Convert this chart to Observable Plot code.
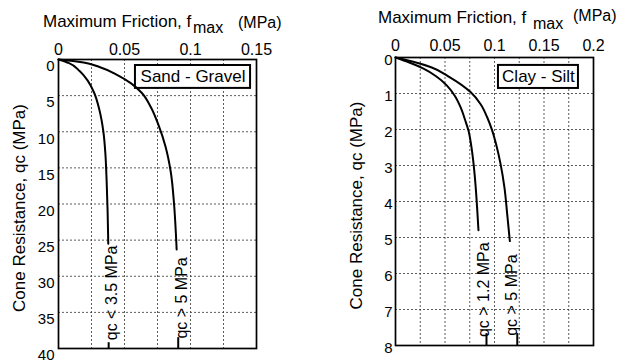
<!DOCTYPE html>
<html><head><meta charset="utf-8">
<script src="https://cdn.jsdelivr.net/npm/d3@7"></script>
<script src="https://cdn.jsdelivr.net/npm/@observablehq/plot@0.6"></script>
<style>
body{margin:0;background:#fff;}
#wrap{display:flex;width:620px;height:362px;overflow:hidden;}
svg text{font-family:"Liberation Sans",Arial,sans-serif;}
</style></head><body><div id="wrap"></div>
<script>
// ---------- Sand - Gravel panel ----------
const sandNote = "Sand - Gravel";
const sandFTicks = [0, 0.05, 0.1, 0.15];
const sandFGrid = [0.025, 0.05, 0.075, 0.1, 0.125];
const sandQTicks = [0, 5, 10, 15, 20, 25, 30, 35, 40];
const sandLowF = [0, 0.008, 0.016, 0.022, 0.027, 0.031, 0.034, 0.0355, 0.0365, 0.0372, 0.0377];
const sandLowQ = [0, 0.5, 1.6, 2.9, 4.6, 7.0, 10, 13, 17, 21, 25.5];
const sandHighF = [0, 0.015, 0.032, 0.045, 0.055, 0.063, 0.070, 0.076, 0.081, 0.085, 0.0875, 0.0889, 0.0895];
const sandHighQ = [0, 0.3, 1.1, 2.2, 3.3, 4.6, 6.6, 9.2, 12, 15.5, 19.9, 24, 26.3];
const sandLabels = ["qc < 3.5 MPa", "qc > 5 MPa"];
const sandLabelF = [0.0402, 0.0932];
const sandLabelQ = [32.3, 33.0];
const sandStubF = [0.0380, 0.0907];
const sandStubQ = [39.2, 38.5];
const sandNoteF = [0.0583, 0.1455];
const sandNoteQ = [0.83, 4.0];

// ---------- Clay - Silt panel ----------
const clayNote = "Clay - Silt";
const clayFTicks = [0, 0.05, 0.1, 0.15, 0.2];
const clayFGrid = [0.025, 0.05, 0.075, 0.1, 0.125, 0.15, 0.175];
const clayQTicks = [0, 1, 2, 3, 4, 5, 6, 7, 8];
const clayLowF = [0, 0.014, 0.0283, 0.041, 0.052, 0.060, 0.0657, 0.0705, 0.0737, 0.0765, 0.0788, 0.081, 0.0825, 0.0838];
const clayLowQ = [0, 0.14, 0.31, 0.52, 0.78, 1.07, 1.38, 1.75, 2.03, 2.45, 2.94, 3.6, 4.2, 4.8];
const clayHighF = [0, 0.018, 0.036, 0.055, 0.0758, 0.086, 0.0926, 0.0977, 0.102, 0.106, 0.110, 0.113, 0.1155];
const clayHighQ = [0, 0.12, 0.27, 0.55, 0.96, 1.3, 1.66, 2.03, 2.45, 2.94, 3.6, 4.4, 5.1];
const clayLabels = ["qc > 1.2 MPa", "qc > 5 MPa"];
const clayLabelF = [0.0889, 0.118];
const clayLabelQ = [6.45, 6.6];
const clayStubF = [0.0919, 0.123];
const clayStubQ = [7.67, 7.67];
const clayNoteF = [0.104, 0.1848];
const clayNoteQ = [0.22, 0.86];

const yTitle = "Cone Resistance, qc (MPa)";

function series(fs, qs, name) { return fs.map((f, i) => ({f, q: qs[i], name})); }

function panel(o) {
  const curves = [...series(o.lowF, o.lowQ, "low"), ...series(o.highF, o.highQ, "high")];
  const labels = o.labels.map((t, i) => ({t, f: o.labelF[i], q: o.labelQ[i]}));
  const stubs = o.stubF.map((f, i) => ({f, q1: o.stubQ[i], q2: o.qDomain[1]}));
  const note = [{t: o.note, f1: o.noteF[0], f2: o.noteF[1], q1: o.noteQ[0], q2: o.noteQ[1]}];
  const grid = {stroke: "#333", strokeOpacity: 1, strokeWidth: 0.8, strokeDasharray: "2,2"};
  return Plot.plot({
    width: o.width, height: 362,
    marginLeft: o.ml, marginRight: o.mr, marginTop: o.mt, marginBottom: o.mb,
    style: {fontFamily: "Liberation Sans, Arial, sans-serif", background: "white", color: "black", overflow: "visible"},
    x: {domain: o.fDomain},
    y: {domain: o.qDomain, reverse: true},
    marks: [
      Plot.gridX(o.fGrid, grid),
      Plot.gridY(o.qTicks, grid),
      Plot.axisX(o.fTicks, {anchor: "top", tickSize: 0, tickPadding: o.xPad, fontSize: 16, tickFormat: d => String(d), label: null}),
      Plot.axisY(o.qTicks, {anchor: "left", tickSize: 0, tickPadding: o.yPad, fontSize: 15, dy: o.yDy, label: null}),
      Plot.frame({stroke: "black", strokeWidth: 1.7}),
      Plot.rect(note, {x1: "f1", x2: "f2", y1: "q1", y2: "q2", fill: "white", stroke: "black", strokeWidth: 2}),
      Plot.text(note, {x: d => (d.f1 + d.f2) / 2, y: d => (d.q1 + d.q2) / 2, text: "t", fontSize: 17}),
      Plot.line(curves, {x: "f", y: "q", z: "name", curve: "monotone-y", stroke: "black", strokeWidth: 2}),
      Plot.ruleX(stubs, {x: "f", y1: "q1", y2: "q2", stroke: "black", strokeWidth: 2}),
      Plot.text(labels, {x: "f", y: "q", text: "t", rotate: -90, fontSize: 16}),
      Plot.text([yTitle], {frameAnchor: "left", textAnchor: "middle", dx: -39, dy: 4, rotate: -90, fontSize: 17, text: d => d})
    ]
  });
}

function addTitle(svg, t) {
  const s = d3.select(svg);
  const g = s.append("g").attr("text-anchor", "start").attr("fill", "black");
  g.append("text").attr("x", t.x).attr("y", t.y).attr("font-size", 17).text("Maximum Friction, f");
  g.append("text").attr("x", t.subX).attr("y", t.y + 6).attr("font-size", 16).text("max");
  g.append("text").attr("x", t.unitX).attr("y", t.unitY).attr("font-size", 16).text("(MPa)");
}

const left = panel({
  width: 320, ml: 58, mr: 64, mt: 59, mb: 14, xPad: 5, yPad: 4, yDy: 7,
  fDomain: [0, 0.15], qDomain: [0, 40], fTicks: sandFTicks, fGrid: sandFGrid, qTicks: sandQTicks,
  lowF: sandLowF, lowQ: sandLowQ, highF: sandHighF, highQ: sandHighQ,
  labels: sandLabels, labelF: sandLabelF, labelQ: sandLabelQ, stubF: sandStubF, stubQ: sandStubQ,
  note: sandNote, noteF: sandNoteF, noteQ: sandNoteQ
});
addTitle(left, {x: 43, y: 27, subX: 193, unitX: 238, unitY: 28});

const right = panel({
  width: 300, ml: 75, mr: 27, mt: 57, mb: 17, xPad: 7, yPad: 3, yDy: 3,
  fDomain: [0, 0.2], qDomain: [0, 8], fTicks: clayFTicks, fGrid: clayFGrid, qTicks: clayQTicks,
  lowF: clayLowF, lowQ: clayLowQ, highF: clayHighF, highQ: clayHighQ,
  labels: clayLabels, labelF: clayLabelF, labelQ: clayLabelQ, stubF: clayStubF, stubQ: clayStubQ,
  note: clayNote, noteF: clayNoteF, noteQ: clayNoteQ
});
addTitle(right, {x: 58, y: 23, subX: 213, unitX: 253, unitY: 21});

document.getElementById("wrap").append(left, right);
</script></body></html>
